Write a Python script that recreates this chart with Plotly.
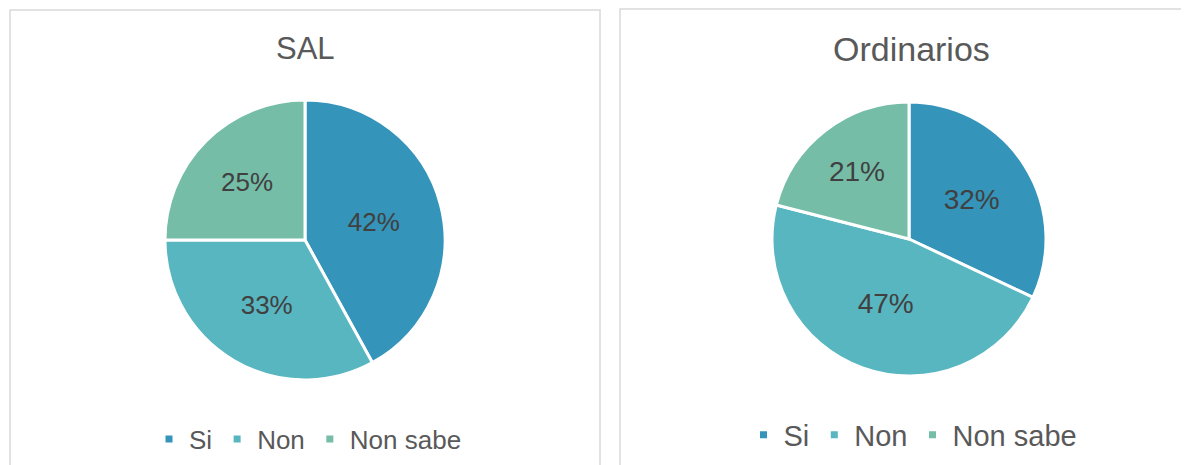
import plotly.graph_objects as go

# ---- data ----
categories = ["Si", "Non", "Non sabe"]
sal_values = [42, 33, 25]
ord_values = [32, 47, 21]
titles = ["SAL", "Ordinarios"]
colors = ["#3494BA", "#58B6C0", "#75BDA7"]

# page body has an 8px margin; size the figure to fill the rest of the window
OFF = 8
W, H = 1189 - OFF, 465 - OFF
FONT = "Liberation Sans, Arial, sans-serif"

def px_x(v):
    return (v - OFF) / W

def px_y(v):
    return 1 - (v - OFF) / H

fig = go.Figure()

# Pies
fig.add_trace(go.Pie(
    labels=categories, values=sal_values, sort=False, direction="clockwise", rotation=0,
    marker=dict(colors=colors, line=dict(color="white", width=3)),
    textinfo="percent", textposition="inside", insidetextorientation="horizontal",
    textfont=dict(family=FONT, size=26, color="#404040"),
    domain=dict(x=[px_x(165), px_x(445)], y=[px_y(380), px_y(100)]),
    showlegend=False, hoverinfo="label+percent",
))
fig.add_trace(go.Pie(
    labels=categories, values=ord_values, sort=False, direction="clockwise", rotation=0,
    marker=dict(colors=colors, line=dict(color="white", width=3)),
    textinfo="percent", textposition="inside", insidetextorientation="horizontal",
    textfont=dict(family=FONT, size=28, color="#404040"),
    domain=dict(x=[px_x(772), px_x(1046)], y=[px_y(376), px_y(102)]),
    showlegend=False, hoverinfo="label+percent",
))

# Legend-only marker traces (small squares like the reference)
for lg in ("legend", "legend2"):
    for cat, col in zip(categories, colors):
        fig.add_trace(go.Scatter(
            x=[None], y=[None], mode="markers", name=cat,
            marker=dict(symbol="square", size=7, color=col),
            legend=lg, showlegend=True,
        ))

fig.update_layout(
    width=W, height=H,
    margin=dict(l=0, r=0, t=0, b=0),
    paper_bgcolor="white", plot_bgcolor="white",
    xaxis=dict(visible=False), yaxis=dict(visible=False),
    legend=dict(
        orientation="h", x=px_x(308), y=px_y(439), xanchor="center", yanchor="middle",
        font=dict(family=FONT, size=26, color="#595959"), bgcolor="rgba(0,0,0,0)",
        itemsizing="trace",
    ),
    legend2=dict(
        orientation="h", x=px_x(913), y=px_y(435), xanchor="center", yanchor="middle",
        font=dict(family=FONT, size=29, color="#595959"), bgcolor="rgba(0,0,0,0)",
        itemsizing="trace",
    ),
    shapes=[
        dict(type="rect", xref="paper", yref="paper",
             x0=px_x(10), x1=px_x(600), y0=-0.1, y1=px_y(10),
             line=dict(color="#D9D9D9", width=1.5), fillcolor="rgba(0,0,0,0)", layer="below"),
        dict(type="rect", xref="paper", yref="paper",
             x0=px_x(620), x1=1.1, y0=-0.1, y1=px_y(9),
             line=dict(color="#D9D9D9", width=1.5), fillcolor="rgba(0,0,0,0)", layer="below"),
    ],
    annotations=[
        dict(text=titles[0], x=px_x(305), y=px_y(48), xref="paper", yref="paper",
             xanchor="center", yanchor="middle", showarrow=False,
             font=dict(family=FONT, size=31, color="#595959")),
        dict(text=titles[1], x=px_x(911), y=px_y(49), xref="paper", yref="paper",
             xanchor="center", yanchor="middle", showarrow=False,
             font=dict(family=FONT, size=34, color="#595959")),
    ],
)

fig.write_html("out.html")
